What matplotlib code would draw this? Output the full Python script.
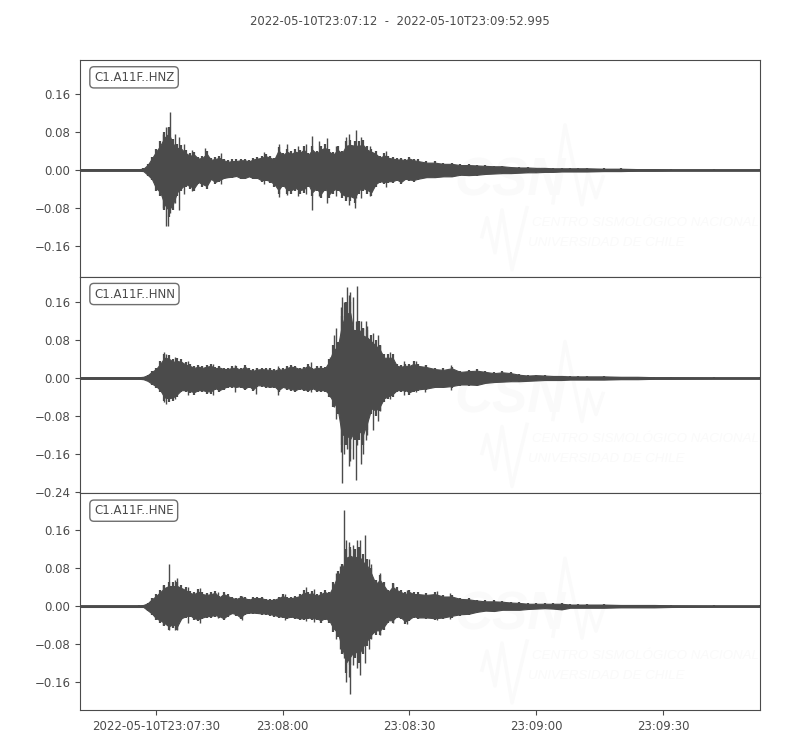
import matplotlib
matplotlib.use('Agg')
import matplotlib.pyplot as plt

# seconds after 23:07:12
times = [0, 14, 15, 16, 17, 18, 19, 20, 21, 22, 23, 24, 25, 26, 27, 28, 29, 30,
         31, 32, 33, 34, 35, 36, 37, 38, 39, 40, 41, 42, 43, 44, 45, 46, 47, 48,
         49, 50, 51, 52, 53, 54, 55, 56, 57, 58, 59, 60, 61, 62, 63, 64, 65, 66,
         67, 68, 69, 70, 71, 72, 73, 74, 75, 76, 77, 78, 79, 80, 82, 84, 86, 88,
         90, 92, 94, 96, 98, 100, 102, 104, 106, 108, 110, 112, 114, 116, 118,
         120, 124, 128, 132, 136, 140, 150, 160.995]

hnz_hi = [.002, .002, .003, .012, .028, .045, .06, .08, .09, .065, .055, .052, .042, .035, .038, .028, .03, .04,
          .025, .027, .03, .024, .02, .022, .022, .024, .024, .021, .026, .028, .03, .034, .03, .026, .048, .036,
          .045, .04, .045, .042, .05, .036, .05, .04, .05, .055, .045, .038, .05, .04, .06, .062, .06, .06,
          .062, .05, .045, .04, .03, .036, .03, .028, .026, .026, .024, .028, .024, .022, .018, .018, .015, .015,
          .012, .012, .011, .01, .009, .009, .007, .006, .006, .005, .005, .004, .004, .004, .004,
          .004, .003, .003, .002, .002, .0015, .0015, .0015]
hnz_lo = [-.002, -.002, -.003, -.012, -.022, -.045, -.055, -.085, -.1, -.085, -.055, -.045, -.035, -.04, -.045, -.03, -.035, -.04,
          -.022, -.03, -.025, -.02, -.018, -.017, -.015, -.02, -.02, -.016, -.02, -.02, -.026, -.024, -.028, -.035, -.05, -.035,
          -.05, -.05, -.045, -.05, -.048, -.035, -.055, -.045, -.06, -.045, -.06, -.05, -.045, -.06, -.065, -.065, -.07, -.05,
          -.045, -.05, -.055, -.035, -.028, -.03, -.028, -.028, -.024, -.03, -.022, -.024, -.025, -.022, -.018, -.018, -.016, -.016,
          -.012, -.013, -.012, -.01, -.009, -.008, -.008, -.007, -.006, -.006, -.005, -.005, -.004, -.004, -.004,
          -.004, -.003, -.003, -.002, -.002, -.0015, -.0015, -.0015]
hnz_spike_t = [19.6, 20.3, 20.9, 21.3, 22.5, 23.4, 24.6, 26.5, 29.7, 33.5, 43.6, 47.1, 49, 51.6, 53.5, 55, 56.6, 58.5, 60.6, 63, 63.6, 65, 65.3, 66.5, 68.6, 72.5]
hnz_spike_lo = [-.08, -.118, -.118, -.09, -.07, -.085, -.05, -.045, -.03, -.03, -.03, -.058, -.052, -.055, -.05, -.085, -.055, -.07, -.055, -.06, -.075, -.08, -.06, -.06, -.055, -.035]
hnz_spike_hi = [.075, .09, .09, .122, .075, .07, .055, .042, .047, .035, .038, .055, .054, .05, .055, .072, .06, .067, .05, .07, .075, .06, .085, .07, .05, .04]

hnn_hi = [.002, .002, .003, .007, .015, .022, .035, .05, .048, .04, .042, .04, .033, .03, .025, .028, .025, .028,
          .03, .024, .026, .022, .022, .025, .025, .02, .028, .02, .018, .021, .022, .021, .02, .018, .022, .02,
          .025, .028, .026, .022, .024, .03, .022, .025, .025, .024, .04, .07, .075, .13, .16, .16, .1, .12,
          .105, .1, .09, .08, .07, .05, .05, .05, .03, .028, .03, .03, .035, .03, .027, .022, .02, .024,
          .015, .017, .018, .015, .012, .014, .012, .008, .006, .007, .006, .005, .005, .004, .004,
          .004, .004, .003, .003, .002, .002, .0015, .0015]
hnn_lo = [-.002, -.002, -.003, -.007, -.014, -.02, -.03, -.048, -.05, -.048, -.04, -.03, -.03, -.032, -.035, -.03, -.03, -.033,
          -.033, -.025, -.03, -.025, -.02, -.02, -.022, -.02, -.026, -.02, -.028, -.018, -.018, -.02, -.022, -.02, -.03, -.022,
          -.025, -.027, -.03, -.025, -.028, -.03, -.025, -.03, -.03, -.03, -.04, -.06, -.075, -.14, -.14, -.15, -.13, -.13,
          -.14, -.11, -.075, -.08, -.07, -.05, -.045, -.04, -.03, -.03, -.03, -.035, -.03, -.028, -.026, -.022, -.022, -.02,
          -.016, -.016, -.017, -.012, -.01, -.009, -.008, -.008, -.007, -.006, -.005, -.005, -.005, -.004, -.004,
          -.004, -.004, -.003, -.003, -.002, -.002, -.0015, -.0015]
hnn_spike_t = [20, 20.3, 22.5, 25.5, 31.4, 36.6, 41.6, 46.8, 54.6, 59.1, 60.1, 60.7, 61.8, 62, 62.6, 63.2, 63.7, 64, 64.6, 65.3, 65.6, 66.5, 67, 67.6, 68, 69.3, 70.5, 71, 73.5, 76.6, 79.5, 81.6, 87.8]
hnn_spike_lo = [-.05, -.055, -.045, -.035, -.035, -.03, -.034, -.035, -.03, -.04, -.06, -.085, -.155, -.22, -.16, -.15, -.185, -.175, -.17, -.215, -.14, -.18, -.16, -.13, -.12, -.11, -.09, -.07, -.045, -.035, -.03, -.03, -.025]
hnn_spike_hi = [.055, .05, .045, .035, .03, .028, .022, .025, .033, .045, .09, .105, .15, .17, .16, .19, .175, .18, .17, .12, .193, .12, .105, .12, .11, .095, .09, .07, .055, .035, .035, .028, .028]

hne_hi = [.002, .002, .003, .007, .017, .025, .035, .045, .05, .05, .05, .045, .04, .033, .03, .036, .03, .028,
          .03, .033, .022, .03, .025, .02, .018, .022, .02, .016, .02, .02, .02, .016, .015, .016, .02, .025,
          .02, .02, .022, .025, .034, .03, .032, .025, .03, .035, .03, .05, .075, .09, .12, .125, .12, .125,
          .11, .1, .08, .055, .065, .05, .035, .048, .04, .035, .03, .035, .03, .03, .028, .03, .024, .024,
          .018, .017, .014, .012, .012, .011, .009, .008, .006, .006, .006, .006, .006, .004, .004,
          .004, .004, .003, .003, .003, .002, .0015, .0015]
hne_lo = [-.002, -.002, -.002, -.01, -.018, -.03, -.035, -.042, -.05, -.045, -.05, -.03, -.025, -.022, -.03, -.032, -.028, -.025,
          -.024, -.022, -.025, -.03, -.022, -.017, -.02, -.028, -.018, -.016, -.016, -.017, -.018, -.018, -.02, -.022, -.025, -.026,
          -.028, -.026, -.028, -.03, -.03, -.028, -.03, -.03, -.035, -.03, -.035, -.055, -.065, -.1, -.14, -.125, -.11, -.12,
          -.1, -.085, -.07, -.06, -.06, -.05, -.035, -.035, -.025, -.028, -.038, -.032, -.025, -.028, -.028, -.03, -.028, -.024,
          -.02, -.019, -.014, -.011, -.012, -.009, -.009, -.009, -.007, -.006, -.005, -.006, -.008, -.004, -.004,
          -.004, -.004, -.003, -.003, -.003, -.002, -.0015, -.0015]
hne_spike_t = [19.6, 21.1, 22.4, 23, 25.5, 28.5, 32.6, 38.4, 48.6, 53.4, 55.5, 60.6, 61.5, 62.4, 63, 63.6, 64, 64.6, 65.7, 66.4, 67.5, 68.5, 69, 71, 74, 77.5, 84.5, 87.5]
hne_spike_lo = [-.04, -.05, -.05, -.05, -.035, -.035, -.025, -.03, -.03, -.032, -.033, -.07, -.09, -.11, -.16, -.15, -.185, -.125, -.13, -.145, -.12, -.09, -.07, -.06, -.035, -.038, -.03, -.027]
hne_spike_hi = [.045, .09, .055, .06, .04, .038, .03, .022, .026, .04, .036, .07, .085, .203, .14, .135, .12, .13, .14, .14, .15, .1, .09, .07, .048, .035, .032, .028]

channels = ['C1.A11F..HNZ', 'C1.A11F..HNN', 'C1.A11F..HNE']
tick_pos = [18, 48, 78, 108, 138]
tick_labels = ['2022-05-10T23:07:30', '23:08:00', '23:08:30', '23:09:00', '23:09:30']
y_ticks = [[-.16, -.08, 0, .08, .16],
           [-.24, -.16, -.08, 0, .08, .16],
           [-.16, -.08, 0, .08, .16]]
y_limits = [(-.225, .2316), (-.242, .2126), (-.219, .238)]

dark = '#4b4b4b'
faint = '#fafafa'
W_PX, H_PX = 680.0, 217.0
BODY = 0.85  # solid part of the trace, the hairs reach the read values


def watermark(ax):
    # faint CSN logo, positions in pixels from the top left of the panel
    def frac(points):
        return [(p[0] + 340) / W_PX for p in points], [1 - p[1] / H_PX for p in points]
    xs, ys = frac([(133, 143), (145, 65), (162, 145), (168, 113), (176, 138), (183, 117)])
    ax.plot(xs, ys, transform=ax.transAxes, color=faint, lw=2.5, zorder=0)
    xs, ys = frac([(62, 177), (67, 158), (75, 193), (82, 150), (92, 210), (107, 148)])
    ax.plot(xs, ys, transform=ax.transAxes, color=faint, lw=2.5, zorder=0)
    ax.text((454 - 80) / W_PX, 1 - 122 / H_PX, 'CSN', transform=ax.transAxes, color=faint,
            family='Liberation Sans', fontsize=38, fontweight='bold', style='italic',
            va='center', ha='left', zorder=0)
    ax.text((532 - 80) / W_PX, 1 - 163 / H_PX, 'CENTRO SISMOLÓGICO NACIONAL', transform=ax.transAxes,
            color=faint, family='Liberation Sans', fontsize=9.6, style='italic', va='center', ha='left', zorder=0)
    ax.text((528 - 80) / W_PX, 1 - 183 / H_PX, 'UNIVERSIDAD DE CHILE', transform=ax.transAxes,
            color=faint, family='Liberation Sans', fontsize=9.6, style='italic', va='center', ha='left', zorder=0)


fig, axes = plt.subplots(3, 1, sharex=True, figsize=(8, 7.5), dpi=100)
fig.subplots_adjust(left=80 / 800, right=760 / 800, top=1 - 60 / 750, bottom=1 - 710 / 750, hspace=0)

traces = [(hnz_hi, hnz_lo, hnz_spike_t, hnz_spike_lo, hnz_spike_hi),
          (hnn_hi, hnn_lo, hnn_spike_t, hnn_spike_lo, hnn_spike_hi),
          (hne_hi, hne_lo, hne_spike_t, hne_spike_lo, hne_spike_hi)]

for i, ax in enumerate(axes):
    hi, lo, sp_t, sp_lo, sp_hi = traces[i]
    watermark(ax)
    ax.fill_between(times, [v * BODY for v in lo], [v * BODY for v in hi], color=dark, lw=0.8, zorder=2)
    ax.vlines(times, lo, hi, color=dark, lw=1.6, zorder=2)
    ax.vlines(sp_t, sp_lo, sp_hi, color=dark, lw=1, zorder=2)
    ax.axhline(0, color=dark, lw=1.8, zorder=2)
    ax.set_xlim(0, 160.995)
    ax.set_ylim(*y_limits[i])
    ax.set_yticks(y_ticks[i])
    ax.set_yticklabels(['%.2f' % abs(v) if v >= 0 else '\u2212%.2f' % abs(v) for v in y_ticks[i]])
    ax.tick_params(axis='y', colors=dark, labelsize=8.5, length=3.5)
    ax.tick_params(axis='x', colors=dark, labelsize=8.5, length=3.5)
    for s in ax.spines.values():
        s.set_color(dark)
    ax.text(0.0205, 0.92, channels[i], transform=ax.transAxes, fontsize=8.45, color=dark,
            va='center', ha='left',
            bbox=dict(boxstyle='round,pad=0.35', fc='white', ec='#6e6e6e', lw=1), zorder=5)

axes[-1].set_xticks(tick_pos)
axes[-1].set_xticklabels(tick_labels)
for ax in axes[:-1]:
    ax.tick_params(axis='x', length=0)

fig.text(0.5, 1 - 21.5 / 750, '2022-05-10T23:07:12  -  2022-05-10T23:09:52.995',
         ha='center', va='center', fontsize=8.42, color=dark)

fig.savefig('out.png', dpi=100)
